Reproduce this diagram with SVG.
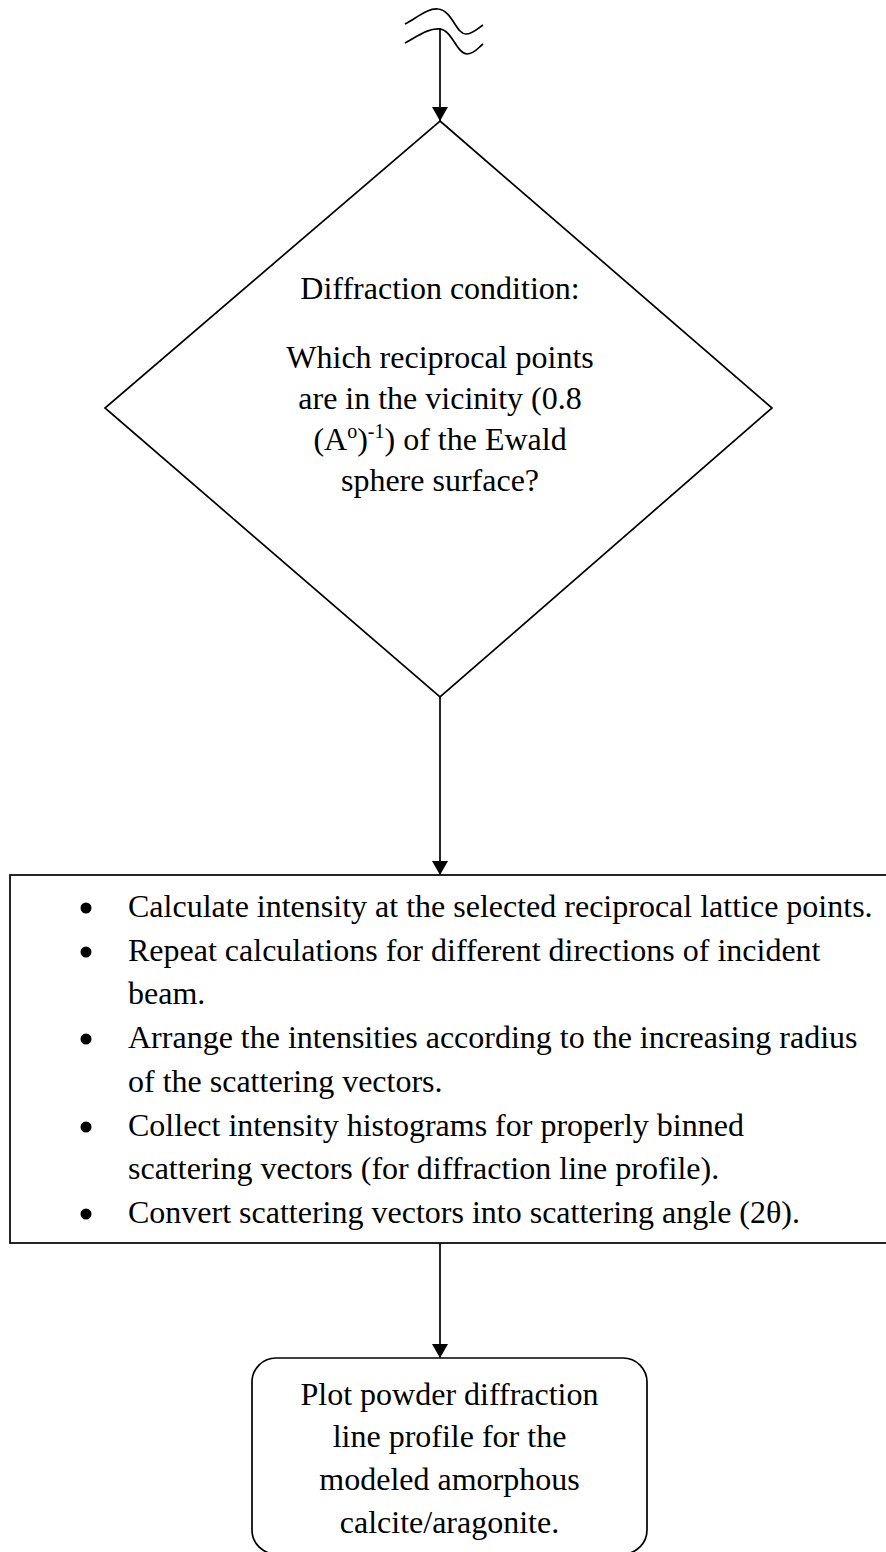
<svg xmlns="http://www.w3.org/2000/svg" width="886" height="1552" viewBox="0 0 886 1552">
<defs>
<style>
.ln{fill:none;stroke:#000;stroke-width:1.7}
.t{font-family:"Liberation Serif","Times New Roman",serif;font-size:32px;fill:#000}
.c{text-anchor:middle}
.sup{font-size:20px}
</style>
<marker id="ah" viewBox="0 0 14 16" refX="14" refY="8" markerWidth="14" markerHeight="16" markerUnits="userSpaceOnUse" orient="auto">
<path d="M0,0 L14,8 L0,16 Z" fill="#000"/>
</marker>
</defs>
<rect width="886" height="1552" fill="#fff"/>
<g id="break">
<path class="ln" d="M405,24 C418,17 428,8 438,9 C452,10 456,34 466,34 C473,34 478,28 483,25"/>
<path class="ln" d="M405,43 C418,36 428,28 440,29 C452,30 457,54 467,54 C474,54 478,48 483,44"/>
</g>
<g id="connectors">
<line class="ln" x1="440" y1="28" x2="440" y2="121" marker-end="url(#ah)"/>
<line class="ln" x1="440" y1="697" x2="440" y2="875" marker-end="url(#ah)"/>
<line class="ln" x1="440" y1="1243" x2="440" y2="1358" marker-end="url(#ah)"/>
</g>
<g id="decision">
<path class="ln" d="M440,121 L772,408 L440,697 L105,408 Z"/>
<text class="t c" x="440" y="299">Diffraction condition:</text>
<text class="t c" x="440" y="368">Which reciprocal points</text>
<text class="t c" x="440" y="409">are in the vicinity (0.8</text>
<text class="t c" x="440" y="450">(A<tspan class="sup" dy="-12">o</tspan><tspan dy="12">)</tspan><tspan class="sup" dy="-12">-1</tspan><tspan dy="12">) of the Ewald</tspan></text>
<text class="t c" x="440" y="491">sphere surface?</text>
</g>
<g id="process">
<rect class="ln" x="10" y="875" width="900" height="368"/>
<g fill="#000">
<circle cx="86" cy="908" r="5.5"/>
<circle cx="86" cy="952" r="5.5"/>
<circle cx="86" cy="1039" r="5.5"/>
<circle cx="86" cy="1127" r="5.5"/>
<circle cx="86" cy="1214" r="5.5"/>
</g>
<text class="t" x="128" y="917">Calculate intensity at the selected reciprocal lattice points.</text>
<text class="t" x="128" y="961">Repeat calculations for different directions of incident</text>
<text class="t" x="128" y="1004">beam.</text>
<text class="t" x="128" y="1048">Arrange the intensities according to the increasing radius</text>
<text class="t" x="128" y="1092">of the scattering vectors.</text>
<text class="t" x="128" y="1136">Collect intensity histograms for properly binned</text>
<text class="t" x="128" y="1179">scattering vectors (for diffraction line profile).</text>
<text class="t" x="128" y="1223">Convert scattering vectors into scattering angle (2θ).</text>
</g>
<g id="output">
<rect class="ln" x="252" y="1358" width="395" height="196" rx="24" ry="24"/>
<text class="t c" x="449.5" y="1405">Plot powder diffraction</text>
<text class="t c" x="449.5" y="1447">line profile for the</text>
<text class="t c" x="449.5" y="1490">modeled amorphous</text>
<text class="t c" x="449.5" y="1533">calcite/aragonite.</text>
</g>
</svg>
